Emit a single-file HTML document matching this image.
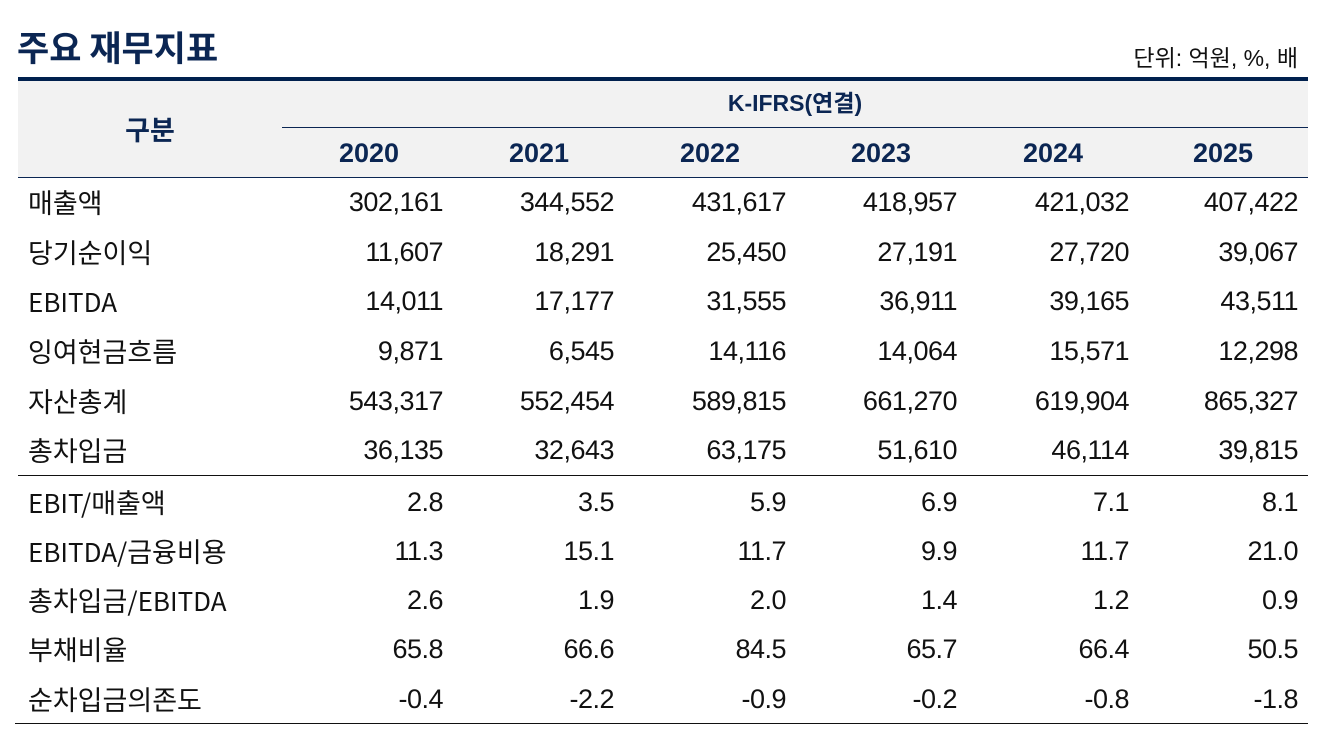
<!DOCTYPE html>
<html>
<head>
<meta charset="utf-8">
<style>
  html, body { margin:0; padding:0; background:#ffffff; }
  body { width:1324px; height:752px; position:relative; overflow:hidden;
         font-family:"Liberation Sans","Noto Sans CJK KR",sans-serif; color:#111; }
  .abs { position:absolute; white-space:nowrap; }
  .title { left:17px; top:22px; height:50px; line-height:50px; font-size:35px; font-weight:bold;
           color:#0b2653; font-family:"Noto Sans CJK KR","Liberation Sans",sans-serif; }
  .unit { right:26px; top:43px; height:30px; line-height:30px; font-size:23px; color:#111; }
  .hbg { left:18px; top:81px; width:1290px; height:96px; background:#f2f2f2; }
  .thick { left:18px; top:77px; width:1290px; height:4px; background:#00204e; }
  .l1 { left:282px; top:127px; width:1026px; height:1px; background:#0b2653; }
  .l2 { left:18px; top:177px; width:1290px; height:1px; background:#0b2653; }
  .l3 { left:18px; top:475px; width:1290px; height:1px; background:#111; }
  .l4 { left:15px; top:723px; width:1293px; height:1px; background:#111; }
  .hdr { color:#0b2653; font-weight:bold; text-align:center; }
  .gubun { left:18px; width:264px; top:109px; height:40px; line-height:40px; font-size:27px;
           font-family:"Noto Sans CJK KR","Liberation Sans",sans-serif; }
  .ifrs { left:282px; width:1026px; top:85px; height:36px; line-height:36px; font-size:23px; }
  .yr { width:160px; top:135px; height:36px; line-height:36px; font-size:27px; }
  .lbl { left:28px; height:50px; line-height:50px; font-size:27px;
         font-family:"Noto Sans CJK KR","Liberation Sans",sans-serif; }
  .lat { font-size:26px; }
  .num { width:170px; height:50px; line-height:50px; font-size:27px; text-align:right; letter-spacing:-0.5px; }
</style>
</head>
<body>
<div class="abs title">주요 재무지표</div>
<div class="abs unit">단위: 억원, %, 배</div>

<div class="abs hbg"></div>
<div class="abs thick"></div>
<div class="abs l1"></div>
<div class="abs l2"></div>
<div class="abs l3"></div>
<div class="abs l4"></div>

<div class="abs hdr gubun">구분</div>
<div class="abs hdr ifrs">K-IFRS(연결)</div>
<div class="abs hdr yr" style="left:289px">2020</div>
<div class="abs hdr yr" style="left:459px">2021</div>
<div class="abs hdr yr" style="left:630px">2022</div>
<div class="abs hdr yr" style="left:801px">2023</div>
<div class="abs hdr yr" style="left:973px">2024</div>
<div class="abs hdr yr" style="left:1143px">2025</div>

<!-- rows -->
<div class="abs lbl" style="top:177px">매출액</div>
<div class="abs num" style="top:177px;left:273px">302,161</div>
<div class="abs num" style="top:177px;left:444px">344,552</div>
<div class="abs num" style="top:177px;left:616px">431,617</div>
<div class="abs num" style="top:177px;left:787px">418,957</div>
<div class="abs num" style="top:177px;left:959px">421,032</div>
<div class="abs num" style="top:177px;left:1128px">407,422</div>

<div class="abs lbl" style="top:227px">당기순이익</div>
<div class="abs num" style="top:227px;left:273px">11,607</div>
<div class="abs num" style="top:227px;left:444px">18,291</div>
<div class="abs num" style="top:227px;left:616px">25,450</div>
<div class="abs num" style="top:227px;left:787px">27,191</div>
<div class="abs num" style="top:227px;left:959px">27,720</div>
<div class="abs num" style="top:227px;left:1128px">39,067</div>

<div class="abs lbl" style="top:276px"><span class="lat">EBITDA</span></div>
<div class="abs num" style="top:276px;left:273px">14,011</div>
<div class="abs num" style="top:276px;left:444px">17,177</div>
<div class="abs num" style="top:276px;left:616px">31,555</div>
<div class="abs num" style="top:276px;left:787px">36,911</div>
<div class="abs num" style="top:276px;left:959px">39,165</div>
<div class="abs num" style="top:276px;left:1128px">43,511</div>

<div class="abs lbl" style="top:326px">잉여현금흐름</div>
<div class="abs num" style="top:326px;left:273px">9,871</div>
<div class="abs num" style="top:326px;left:444px">6,545</div>
<div class="abs num" style="top:326px;left:616px">14,116</div>
<div class="abs num" style="top:326px;left:787px">14,064</div>
<div class="abs num" style="top:326px;left:959px">15,571</div>
<div class="abs num" style="top:326px;left:1128px">12,298</div>

<div class="abs lbl" style="top:376px">자산총계</div>
<div class="abs num" style="top:376px;left:273px">543,317</div>
<div class="abs num" style="top:376px;left:444px">552,454</div>
<div class="abs num" style="top:376px;left:616px">589,815</div>
<div class="abs num" style="top:376px;left:787px">661,270</div>
<div class="abs num" style="top:376px;left:959px">619,904</div>
<div class="abs num" style="top:376px;left:1128px">865,327</div>

<div class="abs lbl" style="top:425px">총차입금</div>
<div class="abs num" style="top:425px;left:273px">36,135</div>
<div class="abs num" style="top:425px;left:444px">32,643</div>
<div class="abs num" style="top:425px;left:616px">63,175</div>
<div class="abs num" style="top:425px;left:787px">51,610</div>
<div class="abs num" style="top:425px;left:959px">46,114</div>
<div class="abs num" style="top:425px;left:1128px">39,815</div>

<div class="abs lbl" style="top:477px"><span class="lat">EBIT/</span>매출액</div>
<div class="abs num" style="top:477px;left:273px">2.8</div>
<div class="abs num" style="top:477px;left:444px">3.5</div>
<div class="abs num" style="top:477px;left:616px">5.9</div>
<div class="abs num" style="top:477px;left:787px">6.9</div>
<div class="abs num" style="top:477px;left:959px">7.1</div>
<div class="abs num" style="top:477px;left:1128px">8.1</div>

<div class="abs lbl" style="top:526px"><span class="lat">EBITDA/</span>금융비용</div>
<div class="abs num" style="top:526px;left:273px">11.3</div>
<div class="abs num" style="top:526px;left:444px">15.1</div>
<div class="abs num" style="top:526px;left:616px">11.7</div>
<div class="abs num" style="top:526px;left:787px">9.9</div>
<div class="abs num" style="top:526px;left:959px">11.7</div>
<div class="abs num" style="top:526px;left:1128px">21.0</div>

<div class="abs lbl" style="top:575px">총차입금<span class="lat">/EBITDA</span></div>
<div class="abs num" style="top:575px;left:273px">2.6</div>
<div class="abs num" style="top:575px;left:444px">1.9</div>
<div class="abs num" style="top:575px;left:616px">2.0</div>
<div class="abs num" style="top:575px;left:787px">1.4</div>
<div class="abs num" style="top:575px;left:959px">1.2</div>
<div class="abs num" style="top:575px;left:1128px">0.9</div>

<div class="abs lbl" style="top:624px">부채비율</div>
<div class="abs num" style="top:624px;left:273px">65.8</div>
<div class="abs num" style="top:624px;left:444px">66.6</div>
<div class="abs num" style="top:624px;left:616px">84.5</div>
<div class="abs num" style="top:624px;left:787px">65.7</div>
<div class="abs num" style="top:624px;left:959px">66.4</div>
<div class="abs num" style="top:624px;left:1128px">50.5</div>

<div class="abs lbl" style="top:674px">순차입금의존도</div>
<div class="abs num" style="top:674px;left:273px">-0.4</div>
<div class="abs num" style="top:674px;left:444px">-2.2</div>
<div class="abs num" style="top:674px;left:616px">-0.9</div>
<div class="abs num" style="top:674px;left:787px">-0.2</div>
<div class="abs num" style="top:674px;left:959px">-0.8</div>
<div class="abs num" style="top:674px;left:1128px">-1.8</div>
</body>
</html>
